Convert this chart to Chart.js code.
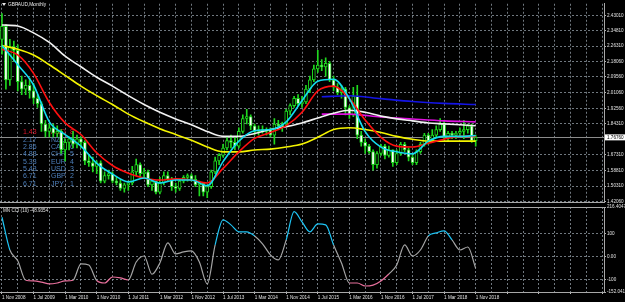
<!DOCTYPE html>
<html>
<head>
<meta charset="utf-8">
<script src="https://cdn.jsdelivr.net/npm/chart.js@4.4.1/dist/chart.umd.min.js"></script>
<style>
  html, body { margin: 0; padding: 0; background: #000; }
  body { width: 625px; height: 302px; position: relative; overflow: hidden; }
  #wrapMain { position: absolute; left: 0; top: 0; width: 625px; height: 206px; }
  #wrapCci { position: absolute; left: 0; top: 200px; width: 625px; height: 102px; }
</style>
</head>
<body>
<div id="wrapMain"><canvas id="chartMain" width="625" height="206"></canvas></div>
<div id="wrapCci"><canvas id="chartCci" width="625" height="102"></canvas></div>
<script>
// GBPAUD mensal + CCI(10)
const totalSlots = 153;   // 121 candles + espaco vazio a direita
const xTickLabels = ['1 Nov 2008', '1 Jul 2009', '1 Mar 2010', '1 Nov 2010', '1 Jul 2011', '1 Mar 2012',
  '1 Nov 2012', '1 Jul 2013', '1 Mar 2014', '1 Nov 2014', '1 Jul 2015', '1 Mar 2016',
  '1 Nov 2016', '1 Jul 2017', '1 Mar 2018', '1 Nov 2018'];

const openP = [2.30, 2.37, 2.08, 2.26, 2.24, 2.07, 2.03, 2.05, 2.02, 1.98,
  1.95, 1.84, 1.80, 1.82, 1.79, 1.80, 1.70, 1.74, 1.76, 1.73,
  1.76, 1.74, 1.64, 1.63, 1.61, 1.63, 1.53, 1.56, 1.57, 1.53,
  1.52, 1.49, 1.51, 1.52, 1.58, 1.62, 1.57, 1.58, 1.51, 1.53,
  1.47, 1.52, 1.56, 1.54, 1.50, 1.49, 1.53, 1.55, 1.56, 1.54,
  1.51, 1.52, 1.47, 1.50, 1.58, 1.64, 1.67, 1.71, 1.75, 1.74,
  1.72, 1.80, 1.87, 1.88, 1.83, 1.80, 1.81, 1.80, 1.81, 1.78,
  1.84, 1.83, 1.84, 1.91, 1.94, 1.98, 1.95, 1.96, 2.03, 2.08,
  2.14, 2.16, 2.15, 2.17, 2.08, 2.04, 2.01, 2.03, 1.93, 1.89,
  1.99, 1.78, 1.74, 1.72, 1.69, 1.62, 1.68, 1.72, 1.67, 1.70,
  1.63, 1.68, 1.73, 1.70, 1.66, 1.63, 1.69, 1.73, 1.78, 1.75,
  1.78, 1.81, 1.84, 1.77, 1.79, 1.78, 1.79, 1.80, 1.81, 1.83,
  1.75];
const highP = [2.44, 2.38, 2.30, 2.29, 2.27, 2.10, 2.08, 2.09, 2.06, 2.00,
  1.96, 1.86, 1.84, 1.84, 1.83, 1.81, 1.76, 1.77, 1.80, 1.78,
  1.77, 1.75, 1.67, 1.66, 1.64, 1.64, 1.58, 1.59, 1.58, 1.55,
  1.54, 1.52, 1.53, 1.61, 1.65, 1.63, 1.60, 1.59, 1.54, 1.53,
  1.55, 1.58, 1.58, 1.55, 1.52, 1.54, 1.56, 1.57, 1.57, 1.56,
  1.53, 1.52, 1.51, 1.59, 1.66, 1.68, 1.73, 1.77, 1.78, 1.77,
  1.82, 1.89, 1.92, 1.89, 1.84, 1.83, 1.83, 1.82, 1.82, 1.87,
  1.86, 1.85, 1.92, 1.95, 1.99, 2.00, 1.99, 2.05, 2.10, 2.16,
  2.24, 2.19, 2.20, 2.18, 2.10, 2.06, 2.05, 2.04, 1.94, 2.04,
  2.05, 1.80, 1.76, 1.73, 1.70, 1.69, 1.73, 1.73, 1.72, 1.70,
  1.70, 1.74, 1.74, 1.71, 1.67, 1.70, 1.74, 1.79, 1.79, 1.81,
  1.83, 1.87, 1.86, 1.80, 1.80, 1.80, 1.82, 1.86, 1.84, 1.84,
  1.78];
const lowP = [2.22, 2.03, 2.05, 2.18, 2.02, 2.00, 2.00, 1.98, 1.95, 1.93,
  1.80, 1.77, 1.77, 1.77, 1.77, 1.68, 1.64, 1.70, 1.71, 1.71,
  1.71, 1.62, 1.61, 1.58, 1.57, 1.52, 1.52, 1.54, 1.52, 1.51,
  1.48, 1.47, 1.48, 1.51, 1.56, 1.55, 1.55, 1.50, 1.48, 1.46,
  1.46, 1.51, 1.53, 1.48, 1.47, 1.48, 1.52, 1.53, 1.53, 1.50,
  1.45, 1.45, 1.44, 1.49, 1.57, 1.62, 1.66, 1.70, 1.71, 1.70,
  1.71, 1.79, 1.84, 1.81, 1.78, 1.78, 1.79, 1.78, 1.77, 1.73,
  1.81, 1.80, 1.83, 1.89, 1.93, 1.94, 1.93, 1.95, 2.01, 2.07,
  2.12, 2.13, 2.10, 2.07, 2.02, 2.00, 1.98, 1.89, 1.87, 1.88,
  1.76, 1.72, 1.68, 1.68, 1.59, 1.60, 1.67, 1.65, 1.66, 1.61,
  1.62, 1.67, 1.69, 1.64, 1.62, 1.62, 1.68, 1.72, 1.73, 1.74,
  1.77, 1.80, 1.76, 1.75, 1.76, 1.76, 1.77, 1.76, 1.79, 1.74,
  1.72];
const closeP = [2.37, 2.08, 2.26, 2.24, 2.07, 2.03, 2.05, 2.02, 1.98, 1.95,
  1.84, 1.80, 1.82, 1.79, 1.80, 1.70, 1.74, 1.76, 1.73, 1.76,
  1.74, 1.64, 1.63, 1.61, 1.63, 1.53, 1.56, 1.57, 1.53, 1.52,
  1.49, 1.51, 1.52, 1.58, 1.62, 1.57, 1.58, 1.51, 1.53, 1.47,
  1.52, 1.56, 1.54, 1.50, 1.49, 1.53, 1.55, 1.56, 1.54, 1.51,
  1.52, 1.47, 1.50, 1.58, 1.64, 1.67, 1.71, 1.75, 1.74, 1.72,
  1.80, 1.87, 1.88, 1.83, 1.80, 1.81, 1.80, 1.81, 1.78, 1.84,
  1.83, 1.84, 1.91, 1.94, 1.98, 1.95, 1.96, 2.03, 2.08, 2.14,
  2.16, 2.15, 2.17, 2.08, 2.04, 2.01, 2.03, 1.93, 1.89, 1.99,
  1.78, 1.74, 1.72, 1.69, 1.62, 1.68, 1.72, 1.67, 1.70, 1.63,
  1.68, 1.73, 1.70, 1.66, 1.63, 1.69, 1.73, 1.78, 1.75, 1.78,
  1.81, 1.84, 1.77, 1.79, 1.78, 1.79, 1.80, 1.81, 1.83, 1.75,
  1.7676];
const currentPrice = 1.7676;

// medias moveis lidas a cada 4 meses
const maIndex = [0, 4, 8, 12, 16, 20, 24, 28, 32, 36, 40, 44, 48, 52, 56, 60,
  64, 68, 72, 76, 80, 84, 88, 92, 96, 100, 104, 108, 112, 116, 120];
const maWhite = [2.378, 2.372, 2.335, 2.283, 2.209, 2.151, 2.094, 2.046, 1.994, 1.946, 1.904, 1.868, 1.836, 1.799, 1.773, 1.773,
  1.789, 1.810, 1.826, 1.846, 1.873, 1.899, 1.915, 1.904, 1.883, 1.868, 1.857, 1.846, 1.841, 1.836, 1.831];
const maYellow = [2.267, 2.246, 2.215, 2.162, 2.104, 2.046, 1.994, 1.946, 1.894, 1.852, 1.815, 1.783, 1.752, 1.715, 1.689, 1.689,
  1.699, 1.704, 1.715, 1.731, 1.768, 1.810, 1.820, 1.810, 1.794, 1.773, 1.757, 1.747, 1.747, 1.747, 1.747];
const maRed = [2.246, 2.215, 2.115, 1.957, 1.846, 1.783, 1.684, 1.615, 1.573, 1.547, 1.536, 1.542, 1.536, 1.520, 1.599, 1.689,
  1.762, 1.794, 1.831, 1.904, 2.020, 2.046, 1.978, 1.862, 1.768, 1.720, 1.715, 1.736, 1.757, 1.773, 1.773];
const maCyan = [2.267, 2.162, 2.052, 1.852, 1.783, 1.720, 1.626, 1.568, 1.526, 1.547, 1.520, 1.536, 1.536, 1.505, 1.636, 1.747,
  1.804, 1.810, 1.852, 1.967, 2.073, 2.083, 1.978, 1.799, 1.715, 1.689, 1.678, 1.747, 1.773, 1.773, 1.778];
const longIndex = [81, 88, 96, 104, 112, 120];
const maBlue = [1.988, 1.994, 1.978, 1.962, 1.952, 1.946];
const maMagenta = [1.894, 1.894, 1.878, 1.867, 1.857, 1.852];

const yTickValues = [2.43010, 2.34810, 2.26310, 2.18060, 2.09560, 2.01060, 1.92560, 1.84310,
  1.67310, 1.58810, 1.50310, 1.42060];

// CCI lido a cada 2 meses
const cciIndex = [0, 2, 4, 6, 8, 10, 12, 14, 16, 18, 20, 22, 24, 26, 28, 30, 32, 34, 36, 38,
  40, 42, 44, 46, 48, 50, 52, 54, 56, 58, 60, 62, 64, 66, 68, 70, 72, 74, 76, 78,
  80, 82, 84, 86, 88, 90, 92, 94, 96, 98, 100, 102, 104, 106, 108, 110, 112, 114, 116, 118, 120];
const cciValues = [172, 30, -17, -101, -104, -109, -117, -113, -104, -101,
  -30, -35, -102, -113, -87, -91, -100, -22, 4, -75,
  -26, 61, 13, 22, 26, -22, -117, 52, 161, 139,
  109, 109, 91, 57, 9, -13, 74, 196, 152, 109,
  143, 139, 52, -26, -113, -113, -126, -122, -104, -74,
  -35, 52, 4, 30, 91, 104, 113, 74, 30, 43, -48.9354];
const cciTickValues = [216.4047, 100, 0, -100, -152.0412];
const cciTickLabels = ['216.4047', '100', '0.00', '-100', '-152.0412'];

const strengthValues = ['1.43', '2.17', '2.86', '4.83', '5.33', '5.43', '6.71', '6.71'];
const strengthNames = ['AUD', 'NZD', 'CAD', 'CHF', 'EUR', 'USD', 'GBP', 'JPY'];
const strengthRanks = ['8', '7', '6', '5', '4', '3', '2', '1'];

// ---------------------------------------------------------------
const FONT = 'Liberation Sans, Arial, sans-serif';
const GRID = 'rgba(150,160,170,0.75)';
const CANDLE = '#1fd81f';

const months = [];
for (let k = 0; k < totalSlots; k++) months.push('m' + k);

function sparse(indexes, values) {
  const arr = new Array(totalSlots).fill(null);
  indexes.forEach((ix, k) => { arr[ix] = values[k]; });
  return arr;
}

const wickData = months.map((m, i) => i < closeP.length ? [lowP[i], highP[i]] : null);
const bodyData = months.map((m, i) => i < closeP.length ? [openP[i], closeP[i]] : null);
const bodyFill = months.map((m, i) => i < closeP.length && closeP[i] < openP[i] ? '#ffffff' : '#000000');

function maLine(indexes, values, color) {
  return {
    type: 'line', data: sparse(indexes, values), borderColor: color, borderWidth: 1.6,
    pointRadius: 0, spanGaps: true, cubicInterpolationMode: 'monotone', order: 1
  };
}

const xGridColor = ctx => (ctx.index % 4 === 0 ? GRID : 'rgba(0,0,0,0)');

const mainPlugin = {
  id: 'mainOverlay',
  beforeDatasetsDraw(chart) {
    const { ctx, chartArea, scales } = chart;
    // linha do preco atual
    const py = Math.round(scales.y.getPixelForValue(currentPrice)) + 0.5;
    ctx.save();
    ctx.strokeStyle = '#8c8c8c';
    ctx.lineWidth = 1;
    ctx.beginPath();
    ctx.moveTo(chartArea.left, py);
    ctx.lineTo(chartArea.right, py);
    ctx.stroke();
    // tabela de forca das moedas
    ctx.font = '7px ' + FONT;
    ctx.textBaseline = 'middle';
    ctx.textAlign = 'left';
    strengthValues.forEach((v, k) => {
      const y = 132.5 + k * 7.3;
      ctx.fillStyle = k === 0 ? '#e0162e' : '#4d7fbb';
      ctx.fillText(v, 23, y);
      ctx.fillText(strengthNames[k], 51, y);
      ctx.fillText(strengthRanks[k], 70, y);
    });
    ctx.restore();
  },
  afterDraw(chart) {
    const { ctx, scales } = chart;
    ctx.save();
    // titulo
    ctx.fillStyle = '#e8e8e8';
    ctx.beginPath();
    ctx.moveTo(2, 3); ctx.lineTo(6, 3); ctx.lineTo(4, 6); ctx.closePath(); ctx.fill();
    ctx.font = '4.8px ' + FONT;
    ctx.textBaseline = 'middle';
    ctx.fillText('GBPAUD,Monthly', 8, 5);
    // etiqueta do preco atual
    const py = scales.y.getPixelForValue(currentPrice);
    ctx.fillStyle = '#ffffff';
    ctx.fillRect(605, py - 3, 20, 6);
    ctx.fillStyle = '#000000';
    ctx.font = '4.6px ' + FONT;
    ctx.fillText(currentPrice.toFixed(5), 607, py);
    ctx.restore();
  }
};

new Chart(document.getElementById('chartMain'), {
  type: 'bar',
  data: {
    labels: months,
    datasets: [
      maLine(maIndex, maCyan, '#14dcf0'),
      maLine(maIndex, maRed, '#ff1010'),
      maLine(maIndex, maYellow, '#f4f400'),
      maLine(maIndex, maWhite, '#f2f2f2'),
      maLine(longIndex, maBlue, '#1414e6'),
      maLine(longIndex, maMagenta, '#e010e0'),
      {
        data: bodyData, backgroundColor: bodyFill, borderColor: CANDLE, borderWidth: 1,
        borderSkipped: false, barThickness: 3, grouped: false, minBarLength: 1, order: 2
      },
      {
        data: wickData, backgroundColor: CANDLE, borderWidth: 0,
        barThickness: 1, grouped: false, order: 3
      }
    ]
  },
  options: {
    responsive: false, animation: false, events: [],
    layout: { padding: 0 },
    plugins: { legend: { display: false }, tooltip: { enabled: false } },
    scales: {
      x: {
        offset: true,
        grid: { offset: false, color: xGridColor, drawTicks: false },
        border: { display: true, color: '#a8a8a8', dash: [2, 2] },
        ticks: { display: false },
        afterFit: s => { s.height = 1; }
      },
      y: {
        position: 'right', min: 1.4153, max: 2.4932,
        afterBuildTicks: s => { s.ticks = yTickValues.map(v => ({ value: v })); },
        grid: { color: GRID, tickLength: 2, tickColor: '#b0b0b0' },
        border: { display: true, color: '#a8a8a8', dash: [2, 2] },
        ticks: { color: '#e0e0e0', font: { family: FONT, size: 4.6 }, padding: 1,
          callback: v => Number(v).toFixed(5) },
        afterFit: s => { s.width = 21; }
      }
    }
  },
  plugins: [mainPlugin]
});

// --------------------- CCI ---------------------
const cciPlugin = {
  id: 'cciOverlay',
  afterDraw(chart) {
    const { ctx, chartArea } = chart;
    ctx.save();
    ctx.strokeStyle = '#a8a8a8';
    ctx.lineWidth = 1;
    ctx.beginPath();
    ctx.moveTo(0, chartArea.top + 0.5);
    ctx.lineTo(chartArea.right, chartArea.top + 0.5);
    ctx.stroke();
    ctx.fillStyle = '#e0e0e0';
    ctx.font = '4.6px ' + FONT;
    ctx.textBaseline = 'middle';
    ctx.fillText('MN CCI (10) ' + cciValues[cciValues.length - 1].toFixed(4), 3, chartArea.top + 4);
    ctx.restore();
  }
};

// cor do segmento pelo valor medio das amostras vizinhas
function cciColor(ctx) {
  const k = Math.floor(ctx.p0DataIndex / 2);
  const a = cciValues[k];
  const b = cciValues[Math.min(k + 1, cciValues.length - 1)];
  const m = (a + b) / 2;
  if (m > 85) return '#1ec4f4';
  if (m < -85) return '#e8709c';
  return '#a4a4a4';
}

new Chart(document.getElementById('chartCci'), {
  type: 'line',
  data: {
    labels: months,
    datasets: [{
      data: sparse(cciIndex, cciValues), borderColor: '#a4a4a4', borderWidth: 1.2,
      pointRadius: 0, spanGaps: true, cubicInterpolationMode: 'monotone',
      segment: { borderColor: cciColor }
    }]
  },
  options: {
    responsive: false, animation: false, events: [],
    layout: { padding: { top: 7, left: 0, right: 0, bottom: 0 } },
    plugins: { legend: { display: false }, tooltip: { enabled: false } },
    scales: {
      x: {
        offset: true,
        grid: { offset: false, color: xGridColor, tickLength: 2,
          tickColor: ctx => (ctx.index % 8 === 0 ? '#c0c0c0' : 'rgba(0,0,0,0)') },
        border: { display: true, color: '#a8a8a8', dash: [2, 2] },
        ticks: {
          autoSkip: false, maxRotation: 0, align: 'start', padding: 1,
          color: '#e0e0e0', font: { family: FONT, size: 4.6 },
          callback: (v, i) => (i % 8 === 0 && xTickLabels[i / 8]) ? xTickLabels[i / 8] : ''
        },
        afterFit: s => { s.height = 10; }
      },
      y: {
        position: 'right', min: -152.0412, max: 216.4047,
        afterBuildTicks: s => { s.ticks = cciTickValues.map(v => ({ value: v })); },
        grid: {
          color: ctx => (ctx.tick && Math.abs(ctx.tick.value) <= 100 ? GRID : 'rgba(0,0,0,0)'),
          tickLength: 2, tickColor: '#b0b0b0'
        },
        border: { display: true, color: '#a8a8a8', dash: [2, 2] },
        ticks: { color: '#e0e0e0', font: { family: FONT, size: 4.6 }, padding: 1,
          callback: (v, i) => cciTickLabels[i] },
        afterFit: s => { s.width = 21; }
      }
    }
  },
  plugins: [cciPlugin]
});
</script>
</body>
</html>
